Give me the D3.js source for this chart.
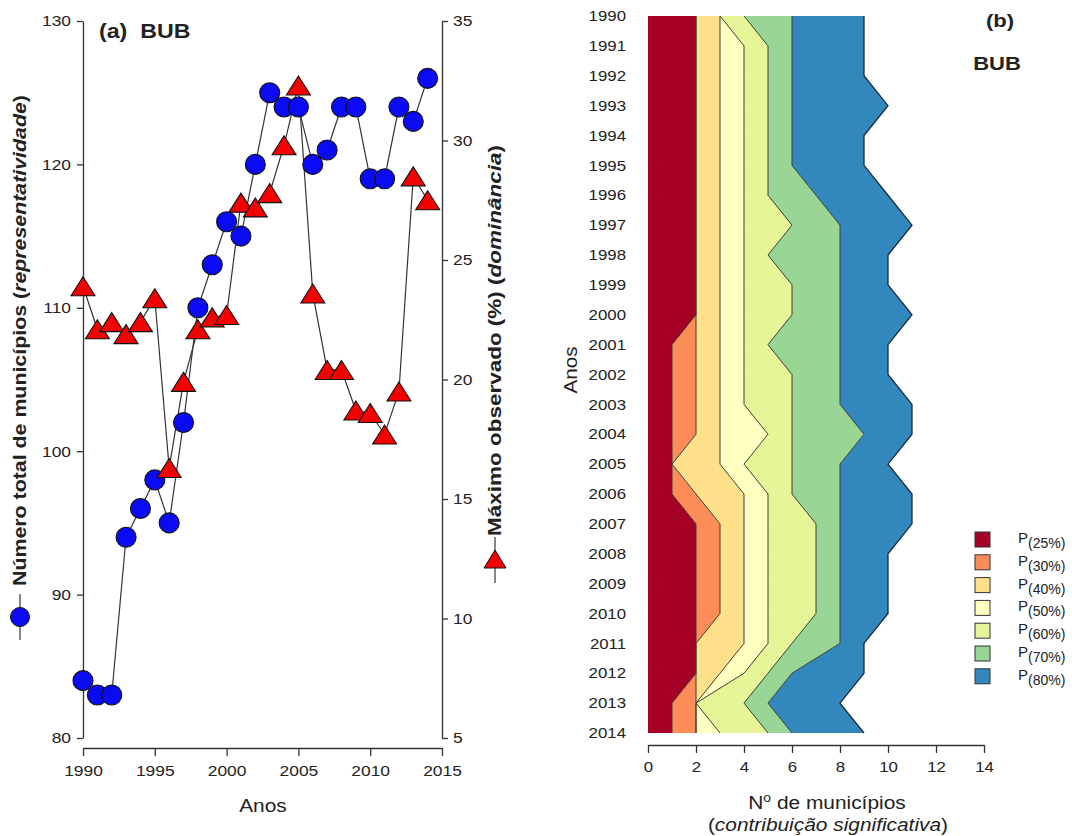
<!DOCTYPE html>
<html><head><meta charset="utf-8">
<script src="https://cdn.jsdelivr.net/npm/d3@7"></script>
<style>
body{margin:0;background:#fff;}
text{font-family:"Liberation Sans",Arial,sans-serif;fill:#222;}
</style></head>
<body>
<svg id="c" width="1072" height="836"></svg>
<script>
// ---------- Data ----------
const years = [1990,1991,1992,1993,1994,1995,1996,1997,1998,1999,2000,2001,2002,2003,2004,2005,2006,2007,2008,2009,2010,2011,2012,2013,2014];
// (a) total number of municipalities (left axis)
const municipios = [84,83,83,94,96,98,95,102,110,113,116,115,120,125,124,124,120,121,124,124,119,119,124,123,126];
// (a) maximum observed % (right axis)
const maximo = [23.9,22.1,22.4,21.9,22.4,23.4,16.3,19.9,22.1,22.6,22.7,27.4,27.2,27.8,29.8,32.3,23.6,20.4,20.4,18.7,18.6,17.7,19.5,28.5,27.5];
const xTicksA = [1990,1995,2000,2005,2010,2015];
const yTicksLeft = [80,90,100,110,120,130];
const yTicksRight = [5,10,15,20,25,30,35];
// (b) number of municipalities per percentile class, stacked
const classes = ["25%","30%","40%","50%","60%","70%","80%"];
const p25 = [2,2,2,2,2,2,2,2,2,2,2,1,1,1,1,1,1,2,2,2,2,2,2,1,1];
const p30 = [0,0,0,0,0,0,0,0,0,0,0,1,1,1,1,0,1,1,1,1,1,0,0,1,1];
const p40 = [1,1,1,1,1,1,1,1,1,1,1,1,1,1,1,2,2,1,1,1,1,2,1,0,0];
const p50 = [0,1,1,1,1,1,1,1,1,1,1,1,1,1,2,1,1,1,1,1,1,1,1,0,1];
const p60 = [1,1,1,1,1,1,1,2,1,2,2,1,2,2,1,2,1,2,2,2,2,1,1,2,2];
const p70 = [2,1,1,1,1,1,2,2,3,2,2,3,2,2,3,2,2,1,1,1,1,2,1,1,1];
const p80 = [3,3,3,4,3,3,3,3,2,2,3,2,2,3,2,2,3,3,2,2,2,1,3,3,3];
const xTicksB = [0,2,4,6,8,10,12,14];
const colors = ["#a50026","#fc8d59","#fee08b","#ffffbf","#e6f598","#99d594","#3288bd"];

const svg = d3.select("#c");
const SX = 1.16; // horizontal glyph stretch of the reference typeface
function stretch(sel){
  sel.each(function(){
    const t = d3.select(this);
    const x = +(t.attr("x")||0), y = +(t.attr("y")||0);
    t.attr("transform",`translate(${x},${y}) scale(${SX},1) translate(${-x},${-y})`);
  });
}

// ---------- Panel (a) ----------
const xA = d3.scaleLinear().domain([1990,2015]).range([83,442]);
const yL = d3.scaleLinear().domain([80,130]).range([738,21]);
const yR = d3.scaleLinear().domain([5,35]).range([738,21]);

const axL = svg.append("g").attr("transform","translate(83,0)")
  .call(d3.axisLeft(yL).tickValues(yTicksLeft).tickSize(6).tickSizeOuter(0).tickPadding(6));
const axR = svg.append("g").attr("transform","translate(442,0)")
  .call(d3.axisRight(yR).tickValues(yTicksRight).tickSize(6).tickSizeOuter(0).tickPadding(5));
const axX = svg.append("g").attr("transform","translate(0,748)")
  .call(d3.axisBottom(xA).tickValues(xTicksA).tickFormat(d3.format("d")).tickSize(8).tickSizeOuter(0).tickPadding(9));
[axL,axR,axX].forEach(g=>{
  g.selectAll("text").style("font-size","15px").attr("fill","#222").style("font-family","'Liberation Sans',Arial,sans-serif");
  g.selectAll("path,line").attr("stroke","#333").attr("stroke-width",1.3);
  stretch(g.selectAll("text"));
});

// lines
const lineL = d3.line().x((d,i)=>xA(years[i])).y(d=>yL(d));
const lineR = d3.line().x((d,i)=>xA(years[i])).y(d=>yR(d));
svg.append("path").attr("d",lineL(municipios)).attr("fill","none").attr("stroke","#333").attr("stroke-width",1.2);
svg.append("path").attr("d",lineR(maximo)).attr("fill","none").attr("stroke","#333").attr("stroke-width",1.2);

svg.append("g").selectAll("circle").data(municipios).join("circle")
  .attr("cx",(d,i)=>xA(years[i])).attr("cy",d=>yL(d)).attr("r",10)
  .attr("fill","#0a0af5").attr("stroke","#111").attr("stroke-width",1.1);

const tri = (cx,cy,w,h)=>`M${cx-w/2},${cy+h/2}L${cx},${cy-h/2}L${cx+w/2},${cy+h/2}Z`;
svg.append("g").selectAll("path").data(maximo).join("path")
  .attr("d",(d,i)=>tri(xA(years[i]),yR(d),24,19))
  .attr("fill","#f50000").attr("stroke","#111").attr("stroke-width",1.1);

stretch(svg.append("text").attr("x",99).attr("y",38).style("font-size","20px").style("font-weight","bold").attr("xml:space","preserve").text("(a)  BUB"));

stretch(svg.append("text").attr("x",263).attr("y",812).attr("text-anchor","middle").style("font-size","18px").text("Anos"));

// left y label
const tl = svg.append("text").attr("transform","translate(26,586) rotate(-90)")
  .attr("textLength",491).attr("lengthAdjust","spacingAndGlyphs")
  .style("font-size","18px").style("font-weight","bold");
tl.append("tspan").text("Número total de municípios (");
tl.append("tspan").style("font-style","italic").text("representatividade");
tl.append("tspan").text(")");
svg.append("line").attr("x1",20).attr("x2",20).attr("y1",594).attr("y2",640).attr("stroke","#444").attr("stroke-width",1.3);
svg.append("circle").attr("cx",20).attr("cy",617).attr("r",9.5).attr("fill","#0a0af5").attr("stroke","#111");

// right y label
const tr = svg.append("text").attr("transform","translate(501,536) rotate(-90)")
  .attr("textLength",391).attr("lengthAdjust","spacingAndGlyphs")
  .style("font-size","18px").style("font-weight","bold");
tr.append("tspan").text("Máximo observado (%) (");
tr.append("tspan").style("font-style","italic").text("dominância");
tr.append("tspan").text(")");
svg.append("line").attr("x1",495).attr("x2",495).attr("y1",537).attr("y2",583).attr("stroke","#444").attr("stroke-width",1.3);
svg.append("path").attr("d",tri(495,559,22,18)).attr("fill","#f50000").attr("stroke","#111");

// ---------- Panel (b) ----------
const xB = d3.scaleLinear().domain([0,14]).range([648,984]);
const yB = d3.scaleLinear().domain([1990,2014]).range([16,733]);

const series = [p25,p30,p40,p50,p60,p70,p80];
const rows = years.map((y,i)=>{ const o={year:y}; classes.forEach((c,k)=>o[c]=series[k][i]); return o; });
const stack = d3.stack().keys(classes)(rows);

const area = d3.area().curve(d3.curveLinear)
  .y(d=>yB(d.data.year)).x0(d=>xB(d[0])).x1(d=>xB(d[1]));
svg.append("g").selectAll("path").data(stack).join("path")
  .attr("d",area).attr("fill",(d,i)=>colors[i]).attr("stroke","none");

const edge = d3.line().curve(d3.curveLinear).y(d=>yB(d.data.year)).x(d=>xB(d[1]));
svg.append("g").selectAll("path").data(stack).join("path")
  .attr("d",edge).attr("fill","none")
  .attr("stroke",(d,i)=>i===6?"#1b2a38":"#3d3d35").attr("stroke-width",(d,i)=>i===6?1.3:1);

const axB = svg.append("g").attr("transform","translate(0,745)")
  .call(d3.axisBottom(xB).tickValues(xTicksB).tickSize(8).tickSizeOuter(0).tickPadding(9));
const axY = svg.append("g").attr("transform","translate(648,0)")
  .call(d3.axisLeft(yB).tickValues(years).tickFormat(d3.format("d")).tickSize(0).tickPadding(22));
axY.select(".domain").remove();
[axB,axY].forEach(g=>{
  g.selectAll("text").style("font-size","14.5px").attr("fill","#222").style("font-family","'Liberation Sans',Arial,sans-serif");
  g.selectAll("path,line").attr("stroke","#333").attr("stroke-width",1.3);
  stretch(g.selectAll("text"));
});

svg.append("text").attr("transform","translate(577,370) rotate(-90)").attr("text-anchor","middle")
  .attr("textLength",47).attr("lengthAdjust","spacingAndGlyphs").style("font-size","18px").text("Anos");

const nx = svg.append("text").attr("x",827).attr("y",809).attr("text-anchor","middle").style("font-size","18px");
nx.append("tspan").text("N");
nx.append("tspan").attr("dy",-7).style("font-size","12px").text("o");
nx.append("tspan").attr("dy",7).text(" de municípios");
stretch(nx);
const cs = svg.append("text").attr("x",828).attr("y",831).attr("text-anchor","middle").style("font-size","18px");
cs.selectAll("tspan").data([["(",false],["contribuição significativa",true],[")",false]]).join("tspan")
  .style("font-style",d=>d[1]?"italic":"normal").text(d=>d[0]);
stretch(cs);

stretch(svg.append("text").attr("x",1000).attr("y",27).attr("text-anchor","middle").style("font-size","19px").style("font-weight","bold").text("(b)"));
stretch(svg.append("text").attr("x",997).attr("y",70).attr("text-anchor","middle").style("font-size","19px").style("font-weight","bold").text("BUB"));

// legend
const lg = svg.append("g").selectAll("g").data(classes).join("g")
  .attr("transform",(d,i)=>`translate(975,${532+i*22.8})`);
lg.append("rect").attr("width",15).attr("height",15).attr("fill",(d,i)=>colors[i]).attr("stroke","#333").attr("stroke-width",1);
const lt = lg.append("text").attr("x",43).attr("y",11).style("font-size","15px");
lt.append("tspan").text("P");
lt.append("tspan").attr("dy",5).style("font-size","14px").text(d=>"("+d+")");
</script>
</body></html>
